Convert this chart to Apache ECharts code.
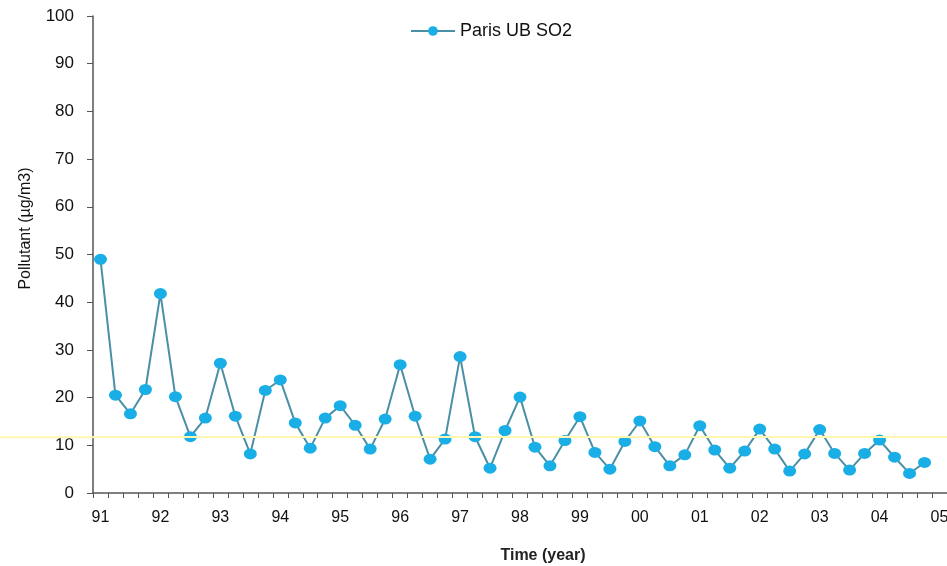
<!DOCTYPE html>
<html><head><meta charset="utf-8">
<script src="https://cdn.jsdelivr.net/npm/echarts@6/dist/echarts.min.js"></script>
<style>html,body{margin:0;padding:0;background:#fff}#c{width:947px;height:566px}</style>
</head><body><div id="c"></div>
<script>
const years = ['91','92','93','94','95','96','97','98','99','00','01','02','03','04','05'];
const quarters = ['Q1','Q2','Q3','Q4'];
const so2 = [
  49.0, 20.5, 16.6, 21.7, 41.8, 20.2, 11.8, 15.7, 27.2, 16.1, 8.2, 21.5, 23.7, 14.7, 9.4, 15.7,
  18.3, 14.2, 9.2, 15.5, 26.9, 16.1, 7.1, 11.3, 28.6, 11.8, 5.2, 13.1, 20.1, 9.6, 5.7, 11.0,
  16.0, 8.5, 5.0, 10.8, 15.1, 9.7, 5.7, 8.0, 14.1, 9.0, 5.2, 8.8, 13.4, 9.2, 4.6, 8.2,
  13.3, 8.3, 4.8, 8.3, 11.1, 7.5, 4.1, 6.4
];
const refLevel = 11.7;
const yTicks = { min: 0, max: 100, step: 10 };

const categories = [];
years.forEach((y, i) => {
  if (i < years.length - 1) quarters.forEach(q => categories.push(y + '-' + q));
  else categories.push(y + '-Q1');
});

const chart = echarts.init(document.getElementById('c'));
const font = 'Liberation Sans, Arial, sans-serif';
chart.setOption({
  animation: false,
  textStyle: { fontFamily: font },
  grid: { left: 93, right: 0, top: 16, bottom: 73, containLabel: false, outerBoundsMode: 'none' },
  legend: {
    top: 17, left: 405,
    itemWidth: 44, itemHeight: 12, itemGap: 6,
    textStyle: { fontSize: 18, color: '#111', fontFamily: font },
    data: ['Paris UB SO2']
  },
  xAxis: {
    type: 'category',
    data: categories,
    boundaryGap: true,
    name: 'Time (year)',
    nameLocation: 'middle',
    nameGap: 55,
    nameTextStyle: { fontSize: 16, fontWeight: 'bold', color: '#222', padding: [0, 0, 0, 46] },
    axisLine: { lineStyle: { color: '#555', width: 1.5 } },
    axisTick: { show: true, interval: 0, length: 5, lineStyle: { color: '#555' } },
    axisLabel: { interval: 3, fontSize: 16, color: '#111', margin: 17,
      formatter: v => v.split('-')[0] }
  },
  yAxis: {
    type: 'value',
    min: yTicks.min, max: yTicks.max, interval: yTicks.step,
    name: 'Pollutant (µg/m3)',
    nameLocation: 'middle',
    nameGap: 59,
    nameTextStyle: { fontSize: 16, color: '#111', padding: [0, 0, 0, 52] },
    axisLine: { show: true, lineStyle: { color: '#555', width: 1.5 } },
    axisTick: { show: true, length: 6, lineStyle: { color: '#555' } },
    axisLabel: { fontSize: 17, color: '#111', margin: 19 },
    splitLine: { show: false }
  },
  series: [{
    name: 'Paris UB SO2',
    type: 'line',
    data: so2,
    symbol: 'circle',
    symbolSize: [13, 11],
    showAllSymbol: true,
    lineStyle: { color: '#4a8fa6', width: 2 },
    itemStyle: { color: '#19aee6', borderWidth: 0 },
    markLine: {
      silent: true, symbol: 'none', label: { show: false },
      lineStyle: { color: '#fff7b0', width: 2, type: 'solid' },
      data: [{ yAxis: refLevel }]
    },
    z: 3
  }]
});
const yPix = chart.convertToPixel({ yAxisIndex: 0 }, refLevel);
chart.setOption({
  graphic: [{ type: 'line', shape: { x1: 0, y1: yPix, x2: 93, y2: yPix },
    style: { stroke: '#fff7b0', lineWidth: 2 }, z: 1 }]
});
</script></body></html>
